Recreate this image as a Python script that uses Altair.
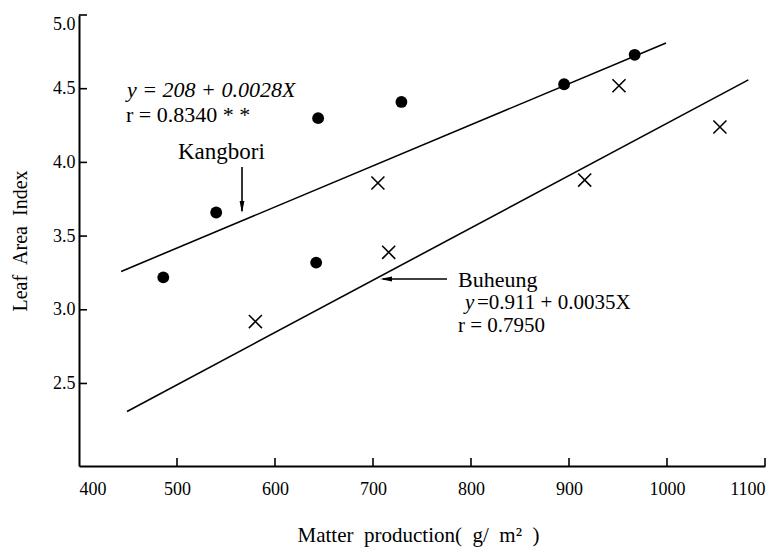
import altair as alt
import pandas as pd

# ---- data ----
kang_x = [486, 540, 642, 644, 729, 895, 967]
kang_y = [3.22, 3.66, 3.32, 4.30, 4.41, 4.53, 4.73]
bu_x = [580, 705, 716, 916, 951, 1054]
bu_y = [2.92, 3.86, 3.39, 3.88, 4.52, 4.24]
kang_line_x = [443, 999]
kang_line_y = [3.26, 4.81]
bu_line_x = [449, 1083]
bu_line_y = [2.31, 4.56]
x_ticks = [400, 500, 600, 700, 800, 900, 1000, 1100]
y_ticks = [2.5, 3.0, 3.5, 4.0, 4.5, 5.0]

SERIF = "Liberation Serif"
W, H = 686, 451

xs = alt.Scale(domain=[400, 1100], nice=False, zero=False)
ys = alt.Scale(domain=[1.94, 5.0], nice=False, zero=False)

kang = pd.DataFrame({"x": kang_x, "y": kang_y})
bu = pd.DataFrame({"x": bu_x, "y": bu_y})
kline = pd.DataFrame({"x": kang_line_x, "y": kang_line_y})
bline = pd.DataFrame({"x": bu_line_x, "y": bu_line_y})
xt = pd.DataFrame({"x": x_ticks[1:]})
yt = pd.DataFrame({"y": y_ticks})
one = pd.DataFrame({"a": [0]})

x_axis = alt.Axis(values=x_ticks, format="d", labelPadding=14,
                  title="Matter\u00a0 production(\u00a0 g/\u00a0 m²\u00a0 )",
                  titleX=W / 2 - 4, titleY=69, titleBaseline="middle", titleFontSize=21)
y_axis = alt.Axis(values=y_ticks, format=".1f", labelPadding=4, labelFlush=True,
                  title="Leaf\u00a0\u00a0Area\u00a0\u00a0Index",
                  titleX=-59, titleY=H / 2, titleAngle=-90, titleBaseline="middle",
                  titleAlign="center", titleFontSize=20)

pts_k = alt.Chart(kang).mark_point(shape="circle", filled=True, color="black", size=140, opacity=1).encode(
    x=alt.X("x:Q", scale=xs, axis=x_axis),
    y=alt.Y("y:Q", scale=ys, axis=y_axis),
)
pts_b = alt.Chart(bu).mark_point(shape="M-1,-1L1,1M-1,1L1,-1", filled=False, color="black",
                                 size=170, strokeWidth=1.6, opacity=1).encode(
    x=alt.X("x:Q", scale=xs), y=alt.Y("y:Q", scale=ys))
ln_k = alt.Chart(kline).mark_line(color="black", strokeWidth=1.6).encode(
    x=alt.X("x:Q", scale=xs), y=alt.Y("y:Q", scale=ys))
ln_b = alt.Chart(bline).mark_line(color="black", strokeWidth=1.6).encode(
    x=alt.X("x:Q", scale=xs), y=alt.Y("y:Q", scale=ys))

tick_x = alt.Chart(xt).mark_rule(color="black", strokeWidth=1.6).encode(
    x=alt.X("x:Q", scale=xs), y=alt.value(H), y2=alt.value(H - 8))
tick_y = alt.Chart(yt).mark_rule(color="black", strokeWidth=1.6).encode(
    y=alt.Y("y:Q", scale=ys), x=alt.value(0), x2=alt.value(8))


def label(text, px, py, size, italic=False):
    return alt.Chart(one).mark_text(text=text, align="left", baseline="middle", font=SERIF,
                                    fontSize=size, fontStyle="italic" if italic else "normal",
                                    color="black").encode(x=alt.value(px), y=alt.value(py))


texts = [
    label("y = 208 + 0.0028X", 48, 75, 22, italic=True),
    label("r = 0.8340 * *", 47, 100, 22),
    label("Kangbori", 99, 137, 23),
    label("Buheung", 379, 265, 22),
    label("y", 386, 288, 21, italic=True),
    label("=0.911 + 0.0035X", 398, 288, 21),
    label("r = 0.7950", 379, 311, 21),
]

arr_k = alt.Chart(one).mark_rule(color="black", strokeWidth=1.6).encode(
    x=alt.value(163), y=alt.value(152), y2=alt.value(196))
head_k = alt.Chart(one).mark_point(shape="M-0.4,-1L0.4,-1L0,1Z", filled=True, color="black",
                                   size=144, opacity=1).encode(x=alt.value(163), y=alt.value(192))
arr_b = alt.Chart(one).mark_rule(color="black", strokeWidth=1.6).encode(
    y=alt.value(264), x=alt.value(304), x2=alt.value(368))
head_b = alt.Chart(one).mark_point(shape="M1,-0.4L1,0.4L-1,0Z", filled=True, color="black",
                                   size=144, opacity=1).encode(x=alt.value(307), y=alt.value(264))

chart = alt.layer(
    pts_k, pts_b, ln_k, ln_b, tick_x, tick_y, arr_k, head_k, arr_b, head_b, *texts
).properties(
    width=W, height=H,
    autosize=alt.AutoSizeParams(type="none"),
    padding={"left": 71, "top": 7, "right": 4, "bottom": 84},
).configure_view(stroke=None).configure_axis(
    domainColor="black", domainWidth=2, grid=False, ticks=False,
    labelFont=SERIF, labelFontSize=18, labelColor="black",
    titleFont=SERIF, titleFontWeight="normal", titleColor="black",
)

chart.save("out.html", embed_options={"renderer": "svg", "actions": False})
